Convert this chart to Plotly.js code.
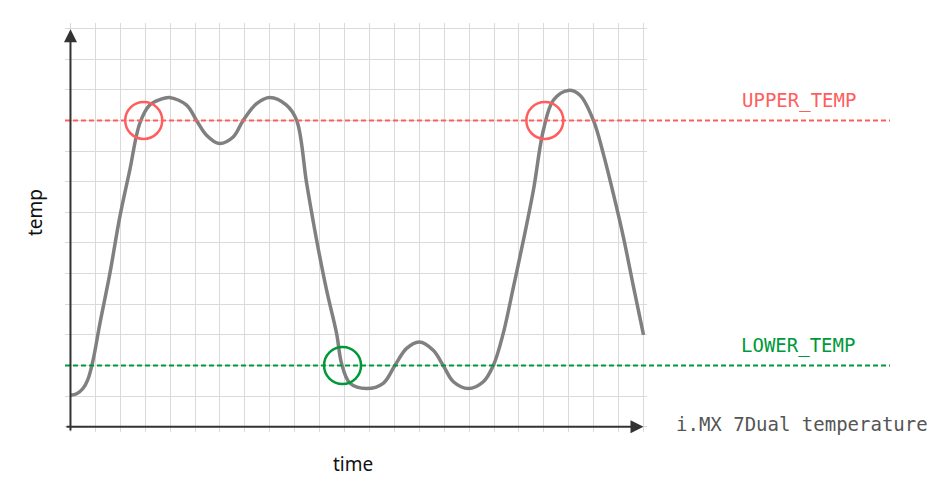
<!DOCTYPE html>
<html>
<head>
<meta charset="utf-8">
<script src="https://cdn.plot.ly/plotly-3.0.1.min.js"></script>
<style>
  html, body { margin: 0; padding: 0; background: #ffffff; }
  #chart { width: 947px; height: 501px; }
</style>
</head>
<body>
<div id="chart"></div>
<script>
// ---- data (grid units) ----
const timeX = [0, 0.25, 0.5, 0.7, 0.9, 1.18, 1.58, 1.98, 2.38, 2.78, 3.18, 3.59, 3.97, 4.66, 5.06, 5.46, 5.97, 6.53, 6.93, 7.47, 8.0, 8.67, 9.08, 9.48, 9.88, 10.28, 10.68, 10.88, 11.22, 11.89, 12.55, 13.02, 13.49, 14.0, 14.56, 14.96, 15.37, 15.97, 16.57, 16.97, 17.37, 17.78, 18.18, 18.58, 18.98, 19.38, 19.98, 20.45, 20.99, 21.39, 21.79, 22.19, 22.59, 23.0];
const tempY = [1.03, 1.08, 1.25, 1.55, 2.15, 3.37, 5.0, 6.85, 8.38, 9.9, 10.5, 10.68, 10.75, 10.5, 10.0, 9.52, 9.25, 9.46, 10.0, 10.55, 10.75, 10.5, 10.0, 7.94, 6.09, 4.46, 3.05, 2.07, 1.42, 1.25, 1.42, 2.0, 2.56, 2.77, 2.5, 2.0, 1.47, 1.25, 1.47, 2.0, 3.05, 4.57, 6.09, 7.72, 9.68, 10.66, 10.98, 10.82, 10.0, 8.9, 7.6, 6.2, 4.6, 3.0];

const upperTemp = 10;
const lowerTemp = 2;

const upperCrossX = [2.94, 19.04];
const lowerCrossX = [10.92];

const xMax = 23;
const yMax = 13;

const labelUpper = 'UPPER_TEMP';
const labelLower = 'LOWER_TEMP';
const labelSeries = 'i.MX 7Dual temperature';
const labelX = 'time';
const labelY = 'temp';

// ---- styling ----
const RED = '#ff5e5e';
const GREEN = '#00993a';
const GRAY = '#808080';
const AXIS = '#333333';
const MONO = 'DejaVu Sans Mono, monospace';
const SANS = 'Noto Sans, Open Sans, sans-serif';

const traces = [
  {
    x: timeX, y: tempY, type: 'scatter', mode: 'lines',
    line: { color: GRAY, width: 3.5, shape: 'spline', smoothing: 1 },
    hoverinfo: 'skip', showlegend: false
  },
  {
    x: upperCrossX, y: upperCrossX.map(() => upperTemp), type: 'scatter', mode: 'markers',
    marker: { symbol: 'circle-open', size: 37, color: RED, line: { color: RED, width: 2.5 } },
    cliponaxis: false, showlegend: false, hoverinfo: 'skip'
  },
  {
    x: lowerCrossX, y: lowerCrossX.map(() => lowerTemp), type: 'scatter', mode: 'markers',
    marker: { symbol: 'circle-open', size: 37, color: GREEN, line: { color: GREEN, width: 2.5 } },
    cliponaxis: false, showlegend: false, hoverinfo: 'skip'
  }
];

const gridAxis = {
  showgrid: true, gridcolor: '#dadada', gridwidth: 1,
  dtick: 1, tick0: 0, showticklabels: false, ticks: '',
  zeroline: false, showline: false, fixedrange: true
};

const layout = {
  width: 947, height: 501,
  margin: { l: 65, r: 300, t: 23, b: 69 },
  paper_bgcolor: '#ffffff', plot_bgcolor: '#ffffff',
  showlegend: false,
  xaxis: Object.assign({}, gridAxis, { range: [-0.22, 23.14] }),
  yaxis: Object.assign({}, gridAxis, { range: [-0.17, 13.18] }),
  shapes: [
    { type: 'line', xref: 'paper', yref: 'y', x0: 0, x1: 1.4175, y0: upperTemp, y1: upperTemp,
      line: { color: RED, width: 2, dash: '5px,3px' }, layer: 'above' },
    { type: 'line', xref: 'paper', yref: 'y', x0: 0, x1: 1.4175, y0: lowerTemp, y1: lowerTemp,
      line: { color: GREEN, width: 2, dash: '5px,3px' }, layer: 'above' }
  ],
  annotations: [
    // y axis with arrow
    { x: 0, y: 12.98, xref: 'x', yref: 'y', ax: 0, ay: -0.17, axref: 'x', ayref: 'y',
      text: '', showarrow: true, arrowhead: 2, arrowsize: 1.3, arrowwidth: 2, arrowcolor: AXIS },
    // x axis with arrow
    { x: xMax, y: 0, xref: 'x', yref: 'y', ax: -0.22, ay: 0, axref: 'x', ayref: 'y',
      text: '', showarrow: true, arrowhead: 2, arrowsize: 1.3, arrowwidth: 2, arrowcolor: AXIS },
    { x: 1.261, y: 0.8117, xref: 'paper', yref: 'paper', xanchor: 'center', yanchor: 'middle',
      text: labelUpper, showarrow: false, font: { family: MONO, size: 19, color: RED } },
    { x: 1.259, y: 0.2127, xref: 'paper', yref: 'paper', xanchor: 'center', yanchor: 'middle',
      text: labelLower, showarrow: false, font: { family: MONO, size: 19, color: GREEN } },
    { x: 1.267, y: 0.0196, xref: 'paper', yref: 'paper', xanchor: 'center', yanchor: 'middle',
      text: labelSeries, showarrow: false, font: { family: MONO, size: 19, color: '#555555' } },
    { x: (353 - 65) / 582, y: -0.078, xref: 'paper', yref: 'paper', xanchor: 'center', yanchor: 'middle',
      text: labelX, showarrow: false, font: { family: SANS, size: 19, color: '#111111' } },
    { x: -0.0515, y: 0.5355, xref: 'paper', yref: 'paper', xanchor: 'center', yanchor: 'middle',
      text: labelY, textangle: -90, showarrow: false, font: { family: SANS, size: 19, color: '#111111' } }
  ]
};

Plotly.newPlot('chart', traces, layout, { staticPlot: true, displayModeBar: false });
</script>
</body>
</html>
